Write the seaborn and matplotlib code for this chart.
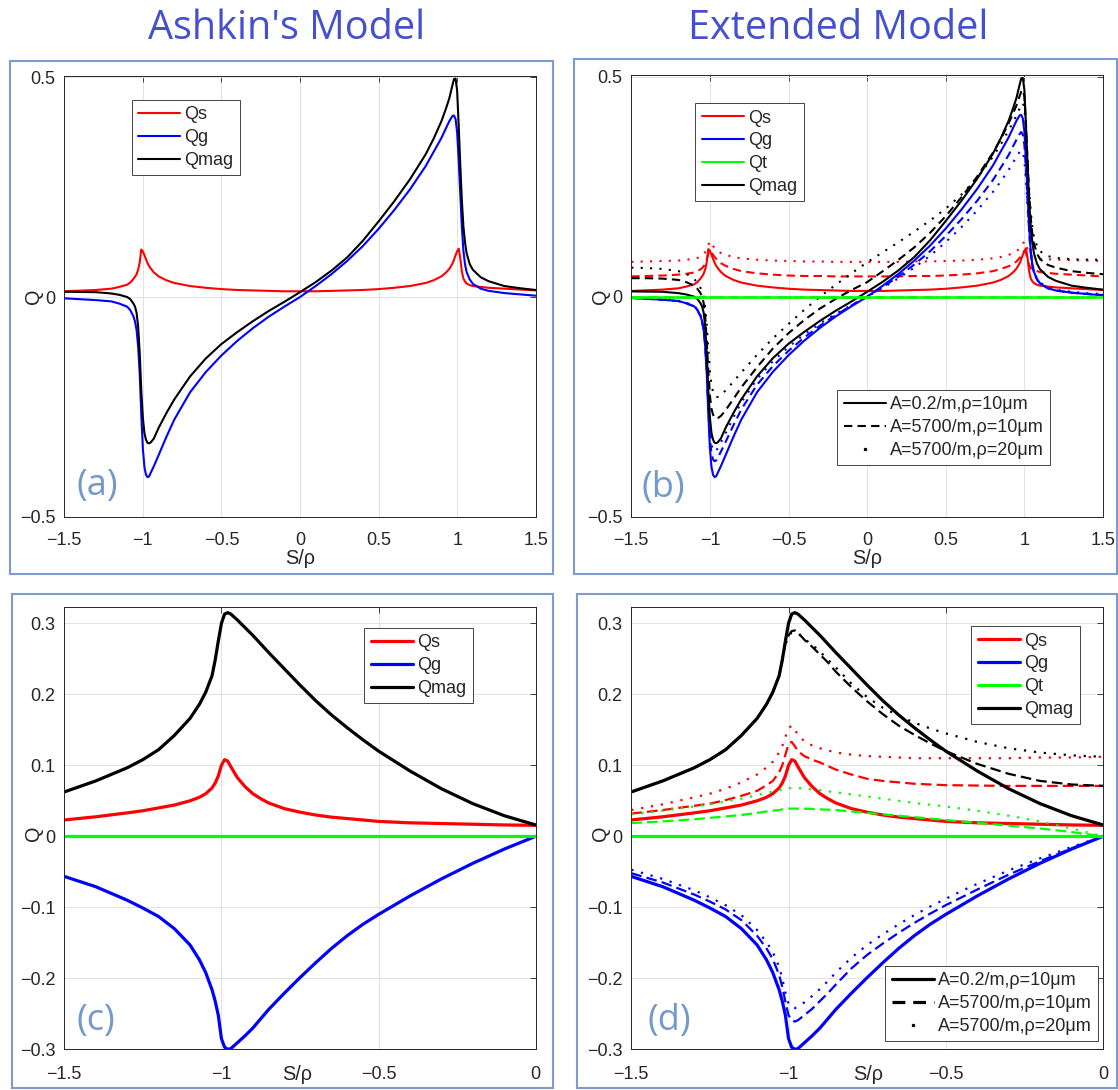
import matplotlib
matplotlib.use("Agg")
import matplotlib.pyplot as plt
from matplotlib.lines import Line2D
from matplotlib.patches import Rectangle
import seaborn as sns

# ---------------- panels (a) and (b): S/rho from -1.5 to 1.5 ----------------
s_full = [-1.5, -1.4, -1.3, -1.2, -1.15, -1.1, -1.08, -1.06, -1.05, -1.04,
          -1.03, -1.02, -1.01, -1.0, -0.99, -0.98, -0.97, -0.96, -0.95, -0.93,
          -0.9, -0.85, -0.8, -0.7, -0.6, -0.5, -0.4, -0.3, -0.2, -0.1,
          0.0, 0.1, 0.2, 0.3, 0.4, 0.5, 0.6, 0.7, 0.8, 0.85,
          0.9, 0.93, 0.95, 0.97, 0.98, 0.99, 1.0, 1.01, 1.02, 1.03,
          1.04, 1.05, 1.06, 1.08, 1.1, 1.15, 1.2, 1.3, 1.4, 1.5]

# Ashkin model (also the A=0.2/m, rho=10um case of the extended model)
qs_ashkin = [0.013, 0.0145, 0.016, 0.019, 0.023, 0.028, 0.033, 0.041, 0.046, 0.052,
             0.062, 0.079, 0.108, 0.104, 0.095, 0.086, 0.077, 0.070, 0.065, 0.056,
             0.047, 0.038, 0.032, 0.025, 0.021, 0.018, 0.016, 0.015, 0.014, 0.013,
             0.013, 0.013, 0.014, 0.015, 0.016, 0.018, 0.021, 0.025, 0.032, 0.038,
             0.047, 0.056, 0.064, 0.076, 0.085, 0.095, 0.104, 0.110, 0.088, 0.058,
             0.042, 0.035, 0.031, 0.027, 0.025, 0.023, 0.021, 0.019, 0.017, 0.015]
qg_ashkin = [-0.003, -0.005, -0.007, -0.010, -0.015, -0.022, -0.030, -0.044, -0.056, -0.075,
             -0.113, -0.175, -0.268, -0.345, -0.387, -0.405, -0.410, -0.408, -0.400, -0.385,
             -0.360, -0.318, -0.279, -0.217, -0.171, -0.133, -0.100, -0.071, -0.045, -0.022,
             0.0, 0.025, 0.052, 0.082, 0.116, 0.155, 0.198, 0.245, 0.298, 0.330,
             0.362, 0.385, 0.400, 0.412, 0.413, 0.405, 0.375, 0.310, 0.235, 0.160,
             0.105, 0.075, 0.057, 0.040, 0.030, 0.019, 0.014, 0.009, 0.006, 0.003]
qmag_ashkin = [0.012, 0.0115, 0.011, 0.008, 0.005, 0.0, -0.005, -0.015, -0.022, -0.036,
               -0.067, -0.129, -0.214, -0.275, -0.310, -0.325, -0.332, -0.333, -0.331, -0.322,
               -0.298, -0.264, -0.233, -0.181, -0.140, -0.107, -0.080, -0.055, -0.032, -0.011,
               0.011, 0.034, 0.060, 0.090, 0.128, 0.172, 0.218, 0.268, 0.325, 0.360,
               0.400, 0.430, 0.452, 0.482, 0.496, 0.497, 0.470, 0.390, 0.300, 0.220,
               0.160, 0.125, 0.100, 0.075, 0.062, 0.045, 0.036, 0.025, 0.020, 0.016]

# extended model, A=5700/m, rho=10um
qs_b_a5700_r10 = [0.046, 0.047, 0.048, 0.050, 0.052, 0.055, 0.058, 0.062, 0.065, 0.069,
                  0.075, 0.085, 0.098, 0.105, 0.100, 0.095, 0.090, 0.086, 0.082, 0.076,
                  0.070, 0.063, 0.058, 0.053, 0.050, 0.048, 0.047, 0.047, 0.046, 0.046,
                  0.046, 0.046, 0.046, 0.047, 0.047, 0.048, 0.050, 0.053, 0.058, 0.063,
                  0.069, 0.075, 0.080, 0.088, 0.093, 0.099, 0.104, 0.100, 0.085, 0.072,
                  0.065, 0.062, 0.060, 0.058, 0.056, 0.054, 0.052, 0.050, 0.048, 0.046]
qg_b_a5700_r10 = [-0.003, -0.005, -0.007, -0.010, -0.015, -0.022, -0.030, -0.044, -0.056, -0.075,
                  -0.110, -0.170, -0.255, -0.322, -0.357, -0.370, -0.374, -0.372, -0.366, -0.352,
                  -0.330, -0.292, -0.256, -0.200, -0.158, -0.123, -0.093, -0.066, -0.042, -0.020,
                  0.0, 0.022, 0.046, 0.073, 0.103, 0.138, 0.176, 0.218, 0.265, 0.293,
                  0.322, 0.343, 0.357, 0.370, 0.374, 0.368, 0.345, 0.290, 0.220, 0.150,
                  0.100, 0.072, 0.055, 0.039, 0.030, 0.019, 0.014, 0.009, 0.006, 0.004]
qmag_b_a5700_r10 = [0.042, 0.042, 0.041, 0.038, 0.033, 0.025, 0.018, 0.008, 0.0, -0.014,
                    -0.045, -0.100, -0.170, -0.225, -0.255, -0.268, -0.275, -0.277, -0.276, -0.271,
                    -0.258, -0.232, -0.206, -0.160, -0.118, -0.083, -0.053, -0.027, -0.005, 0.015,
                    0.033, 0.058, 0.084, 0.112, 0.145, 0.183, 0.226, 0.273, 0.327, 0.358,
                    0.394, 0.418, 0.435, 0.456, 0.466, 0.470, 0.455, 0.390, 0.310, 0.235,
                    0.180, 0.145, 0.122, 0.098, 0.085, 0.072, 0.066, 0.058, 0.054, 0.051]

# extended model, A=5700/m, rho=20um
qs_b_a5700_r20 = [0.079, 0.080, 0.081, 0.082, 0.084, 0.086, 0.088, 0.091, 0.093, 0.096,
                  0.101, 0.108, 0.118, 0.126, 0.120, 0.115, 0.111, 0.107, 0.104, 0.099,
                  0.095, 0.090, 0.087, 0.084, 0.082, 0.081, 0.080, 0.080, 0.079, 0.079,
                  0.079, 0.079, 0.079, 0.080, 0.080, 0.081, 0.082, 0.084, 0.087, 0.090,
                  0.095, 0.099, 0.103, 0.110, 0.114, 0.119, 0.126, 0.120, 0.108, 0.099,
                  0.094, 0.091, 0.089, 0.087, 0.086, 0.085, 0.084, 0.083, 0.082, 0.081]
qg_b_a5700_r20 = [-0.002, -0.004, -0.006, -0.009, -0.014, -0.021, -0.029, -0.042, -0.054, -0.072,
                  -0.106, -0.163, -0.242, -0.303, -0.336, -0.348, -0.352, -0.350, -0.344, -0.331,
                  -0.310, -0.274, -0.240, -0.187, -0.147, -0.114, -0.086, -0.061, -0.039, -0.019,
                  0.0, 0.020, 0.042, 0.066, 0.093, 0.124, 0.158, 0.196, 0.238, 0.262,
                  0.288, 0.306, 0.318, 0.329, 0.332, 0.328, 0.310, 0.265, 0.205, 0.145,
                  0.100, 0.073, 0.057, 0.041, 0.032, 0.021, 0.016, 0.011, 0.008, 0.006]
qmag_b_a5700_r20 = [0.066, 0.065, 0.063, 0.058, 0.052, 0.040, 0.032, 0.020, 0.012, 0.0,
                    -0.025, -0.065, -0.120, -0.170, -0.200, -0.217, -0.225, -0.228, -0.228, -0.224,
                    -0.213, -0.193, -0.172, -0.132, -0.095, -0.062, -0.030, 0.0, 0.027, 0.053,
                    0.078, 0.101, 0.124, 0.148, 0.173, 0.200, 0.232, 0.270, 0.318, 0.346,
                    0.378, 0.398, 0.412, 0.428, 0.436, 0.440, 0.430, 0.380, 0.310, 0.245,
                    0.195, 0.160, 0.138, 0.115, 0.103, 0.092, 0.088, 0.085, 0.084, 0.084]

# Qt stays on zero over the full range in panel (b)
s_flat_b = [-1.5, 1.5]
qt_b = [0.0, 0.0]

# ---------------- panels (c) and (d): S/rho from -1.5 to 0 ----------------
s_half = [-1.5, -1.4, -1.3, -1.25, -1.2, -1.15, -1.1, -1.07, -1.05, -1.03,
          -1.02, -1.01, -1.0, -0.99, -0.98, -0.97, -0.95, -0.925, -0.9, -0.875,
          -0.85, -0.8, -0.75, -0.7, -0.65, -0.6, -0.55, -0.5, -0.45, -0.4,
          -0.3, -0.2, -0.1, 0.0]

qs_c = [0.023, 0.0275, 0.033, 0.036, 0.040, 0.044, 0.050, 0.055, 0.060, 0.068,
        0.075, 0.085, 0.100, 0.108, 0.106, 0.098, 0.083, 0.070, 0.060, 0.053,
        0.047, 0.039, 0.034, 0.030, 0.027, 0.025, 0.023, 0.021, 0.020, 0.019,
        0.018, 0.017, 0.016, 0.0155]
qg_c = [-0.0565, -0.071, -0.090, -0.101, -0.113, -0.130, -0.153, -0.174, -0.192, -0.216,
        -0.232, -0.252, -0.285, -0.297, -0.300, -0.299, -0.291, -0.281, -0.270, -0.257,
        -0.244, -0.221, -0.199, -0.178, -0.158, -0.140, -0.124, -0.110, -0.097, -0.084,
        -0.060, -0.038, -0.018, 0.0]
qmag_c = [0.0625, 0.078, 0.0965, 0.108, 0.122, 0.142, 0.166, 0.186, 0.203, 0.226,
          0.248, 0.275, 0.300, 0.313, 0.315, 0.313, 0.305, 0.294, 0.283, 0.271,
          0.259, 0.236, 0.213, 0.191, 0.171, 0.153, 0.136, 0.120, 0.106, 0.092,
          0.067, 0.046, 0.029, 0.016]
s_flat_c = [-1.5, 0.0]
qt_c = [0.0, 0.0]

qs_d_a5700_r10 = [0.032, 0.037, 0.043, 0.046, 0.051, 0.057, 0.064, 0.072, 0.078, 0.090,
                  0.100, 0.115, 0.130, 0.133, 0.127, 0.120, 0.113, 0.108, 0.104, 0.099,
                  0.094, 0.087, 0.081, 0.078, 0.076, 0.074, 0.073, 0.072, 0.0718, 0.0715,
                  0.071, 0.071, 0.071, 0.071]
qg_d_a5700_r10 = [-0.052, -0.065, -0.082, -0.092, -0.103, -0.118, -0.140, -0.158, -0.173, -0.195,
                  -0.212, -0.233, -0.252, -0.259, -0.261, -0.259, -0.252, -0.243, -0.232, -0.221,
                  -0.209, -0.186, -0.167, -0.151, -0.136, -0.122, -0.109, -0.097, -0.086, -0.075,
                  -0.054, -0.035, -0.017, 0.0]
qt_d_a5700_r10 = [0.0186, 0.021, 0.024, 0.026, 0.028, 0.030, 0.033, 0.035, 0.036, 0.037,
                  0.038, 0.038, 0.039, 0.039, 0.039, 0.039, 0.039, 0.0385, 0.038, 0.0375,
                  0.037, 0.035, 0.033, 0.031, 0.029, 0.027, 0.025, 0.023, 0.021, 0.019,
                  0.015, 0.011, 0.006, 0.0]
qmag_d_a5700_r10 = [0.0625, 0.078, 0.0965, 0.108, 0.122, 0.142, 0.166, 0.186, 0.203, 0.226,
                    0.248, 0.272, 0.283, 0.289, 0.290, 0.287, 0.277, 0.267, 0.256, 0.245,
                    0.232, 0.210, 0.190, 0.172, 0.156, 0.143, 0.131, 0.120, 0.111, 0.102,
                    0.088, 0.078, 0.073, 0.071]

qs_d_a5700_r20 = [0.037, 0.045, 0.055, 0.060, 0.067, 0.076, 0.087, 0.097, 0.105, 0.118,
                  0.127, 0.140, 0.152, 0.156, 0.150, 0.143, 0.134, 0.128, 0.124, 0.121,
                  0.118, 0.115, 0.113, 0.112, 0.111, 0.110, 0.110, 0.110, 0.110, 0.110,
                  0.110, 0.111, 0.111, 0.112]
qg_d_a5700_r20 = [-0.047, -0.060, -0.076, -0.086, -0.097, -0.111, -0.132, -0.149, -0.163, -0.184,
                  -0.200, -0.220, -0.236, -0.241, -0.242, -0.240, -0.234, -0.225, -0.215, -0.204,
                  -0.192, -0.171, -0.153, -0.138, -0.124, -0.111, -0.099, -0.088, -0.077, -0.067,
                  -0.048, -0.031, -0.015, 0.0]
qt_d_a5700_r20 = [0.031, 0.036, 0.042, 0.045, 0.049, 0.053, 0.058, 0.061, 0.063, 0.065,
                  0.066, 0.067, 0.0675, 0.068, 0.068, 0.068, 0.067, 0.066, 0.065, 0.0635,
                  0.062, 0.059, 0.056, 0.053, 0.050, 0.047, 0.0445, 0.042, 0.039, 0.036,
                  0.029, 0.021, 0.011, 0.0]
qmag_d_a5700_r20 = [0.0625, 0.078, 0.0965, 0.108, 0.122, 0.142, 0.166, 0.186, 0.203, 0.226,
                    0.248, 0.270, 0.282, 0.287, 0.288, 0.286, 0.278, 0.270, 0.260, 0.249,
                    0.238, 0.215, 0.196, 0.181, 0.170, 0.160, 0.152, 0.145, 0.139, 0.133,
                    0.124, 0.118, 0.114, 0.112]

component_labels = ["Qs", "Qg", "Qt", "Qmag"]
case_labels = ["A=0.2/m,ρ=10μm", "A=5700/m,ρ=10μm", "A=5700/m,ρ=20μm"]
ticks_wide = [-1.5, -1, -0.5, 0, 0.5, 1, 1.5]
ticks_half = [-1.5, -1, -0.5, 0]
yticks_ab = [-0.5, 0, 0.5]
yticks_cd = [-0.3, -0.2, -0.1, 0, 0.1, 0.2, 0.3]

# ---------------- styling ----------------
RED, BLUE, GREEN, BLACK = "#ff0000", "#0000ff", "#00ff00", "#000000"
INK = "#262626"
FRAME = "#7d9bcc"
TITLE_C = "#4450d0"
TAG_C = "#7399cc"
DASH_B, DOT_B = (0, (4, 2.5)), (0, (1, 3.5))
DASH_D, DOT_D = (0, (4.8, 2.3)), (0, (1, 3.5))

sns.set_style("white")
plt.rcParams["font.family"] = ["Liberation Sans", "DejaVu Sans"]
plt.rcParams["axes.unicode_minus"] = True

W, H = 1118, 1090
fig = plt.figure(figsize=(W / 100, H / 100), dpi=100)


def axes_px(l, t, r, b):
    return fig.add_axes([l / W, 1 - b / H, (r - l) / W, (b - t) / H])


def curve(ax, x, y, color, lw, ls="-"):
    sns.lineplot(x=x, y=y, ax=ax, color=color, linewidth=lw, linestyle=ls,
                 errorbar=None, estimator=None, sort=False)


def tick_text(v):
    return f"{v:g}".replace("-", "\u2212")


def setup(ax, xlim, ylim, xticks, yticks, xpad, ylab_y, xlab_xy):
    ax.set_xlim(*xlim)
    ax.set_ylim(*ylim)
    ax.set_xticks(xticks)
    ax.set_xticklabels([tick_text(v) for v in xticks])
    ax.set_yticks(yticks)
    ax.set_yticklabels([tick_text(v) for v in yticks])
    ax.grid(True, color="#e2e2e2", linewidth=0.7)
    ax.set_axisbelow(True)
    ax.tick_params(axis="both", direction="in", top=True, right=True,
                   length=4, width=0.6, color=INK, labelcolor=INK, labelsize=13)
    ax.tick_params(axis="x", pad=xpad)
    ax.tick_params(axis="y", pad=6.5)
    for sp in ax.spines.values():
        sp.set_color(INK)
        sp.set_linewidth(0.7)
    ax.set_ylabel("Q", fontsize=14.3, color=INK)
    ax.yaxis.label.set_va("center")
    ax.yaxis.set_label_coords(-0.066, ylab_y)
    ax.set_xlabel("S/ρ", fontsize=14.3, color=INK)
    ax.xaxis.label.set_va("center")
    ax.xaxis.set_label_coords(*xlab_xy)


def legend(ax, handles, labels, x, y):
    leg = ax.legend(handles, labels, loc="upper left",
                    bbox_to_anchor=(x / W, 1 - y / H), bbox_transform=fig.transFigure,
                    borderaxespad=0, fontsize=13, frameon=True, fancybox=False,
                    framealpha=1, edgecolor=INK, borderpad=0.35, labelspacing=0.32,
                    handlelength=2.34, handletextpad=0.24)
    leg.get_frame().set_linewidth(0.6)
    for t in leg.get_texts():
        t.set_color(INK)
    return leg


def color_handles(lw, with_qt):
    cols = [RED, BLUE, GREEN, BLACK] if with_qt else [RED, BLUE, BLACK]
    return [Line2D([], [], color=c, lw=lw) for c in cols]


def case_handles(lw):
    return [Line2D([], [], color=BLACK, lw=lw),
            Line2D([], [], color=BLACK, lw=lw, linestyle=DASH_B),
            Line2D([], [], color=BLACK, ls="none", marker=".", markersize=3)]


# panel frames
for (l, t, r, b) in [(9.5, 60.5, 552.5, 573.5), (574, 59.5, 1116.5, 573.5),
                     (11.5, 594, 552.5, 1088), (576.5, 594, 1116.5, 1088)]:
    fig.patches.append(Rectangle((l / W, 1 - b / H), (r - l) / W, (b - t) / H,
                                 transform=fig.transFigure, fill=False,
                                 edgecolor=FRAME, linewidth=1.5))

# column titles
fig.text(287 / W, 1 - 39 / H, "Ashkin's Model", ha="center", va="baseline",
         fontsize=28.5, color=TITLE_C, family=["Open Sans", "DejaVu Sans"])
fig.text(838.5 / W, 1 - 39 / H, "Extended Model", ha="center", va="baseline",
         fontsize=28.5, color=TITLE_C, family=["Open Sans", "DejaVu Sans"])

# ---- (a) ----
ax_a = axes_px(64.3, 76, 535.7, 516.7)
curve(ax_a, s_full, qs_ashkin, RED, 1.5)
curve(ax_a, s_full, qg_ashkin, BLUE, 1.5)
curve(ax_a, s_full, qmag_ashkin, BLACK, 1.5)
setup(ax_a, (-1.5, 1.5), (-0.5, 0.503), ticks_wide, yticks_ab, 10.7, 0.5, (0.5, -0.094))
legend(ax_a, color_handles(1.5, False), ["Qs", "Qg", "Qmag"], 131.7, 100)

# ---- (b) ----
ax_b = axes_px(631.3, 75.3, 1103, 516.7)
for ys, ls in [(qs_ashkin, "-"), (qs_b_a5700_r10, DASH_B), (qs_b_a5700_r20, DOT_B)]:
    curve(ax_b, s_full, ys, RED, 1.5, ls)
for ys, ls in [(qg_ashkin, "-"), (qg_b_a5700_r10, DASH_B), (qg_b_a5700_r20, DOT_B)]:
    curve(ax_b, s_full, ys, BLUE, 1.5, ls)
for ys, ls in [(qmag_ashkin, "-"), (qmag_b_a5700_r10, DASH_B), (qmag_b_a5700_r20, DOT_B)]:
    curve(ax_b, s_full, ys, BLACK, 1.5, ls)
for ls in ["-", DASH_B, DOT_B]:
    curve(ax_b, s_flat_b, qt_b, GREEN, 1.8, ls)
setup(ax_b, (-1.5, 1.5), (-0.5, 0.503), ticks_wide, yticks_ab, 10.7, 0.5, (0.5, -0.094))
leg1 = legend(ax_b, color_handles(1.5, True), component_labels, 695.4, 103.4)
ax_b.add_artist(leg1)
legend(ax_b, case_handles(1.5), case_labels, 837.3, 390)

# ---- (c) ----
ax_c = axes_px(64.3, 606.7, 535.7, 1049.3)
curve(ax_c, s_half, qs_c, RED, 2.3)
curve(ax_c, s_half, qg_c, BLUE, 2.3)
curve(ax_c, s_flat_c, qt_c, GREEN, 2.3)
curve(ax_c, s_half, qmag_c, BLACK, 2.3)
setup(ax_c, (-1.5, 0), (-0.3, 0.3234), ticks_half, yticks_cd, 12.0, 0.489, (0.493, -0.056))
legend(ax_c, color_handles(2.3, False), ["Qs", "Qg", "Qmag"], 364.3, 628)

# ---- (d) ----
ax_d = axes_px(631.3, 606.7, 1103, 1049.3)
curve(ax_d, s_half, qs_c, RED, 2.3)
curve(ax_d, s_half, qs_d_a5700_r10, RED, 1.6, DASH_D)
curve(ax_d, s_half, qs_d_a5700_r20, RED, 1.6, DOT_D)
curve(ax_d, s_half, qg_c, BLUE, 2.3)
curve(ax_d, s_half, qg_d_a5700_r10, BLUE, 1.6, DASH_D)
curve(ax_d, s_half, qg_d_a5700_r20, BLUE, 1.6, DOT_D)
curve(ax_d, s_flat_c, qt_c, GREEN, 2.3)
curve(ax_d, s_half, qt_d_a5700_r10, GREEN, 1.6, DASH_D)
curve(ax_d, s_half, qt_d_a5700_r20, GREEN, 1.6, DOT_D)
curve(ax_d, s_half, qmag_c, BLACK, 2.3)
curve(ax_d, s_half, qmag_d_a5700_r10, BLACK, 1.6, DASH_D)
curve(ax_d, s_half, qmag_d_a5700_r20, BLACK, 1.6, DOT_D)
setup(ax_d, (-1.5, 0), (-0.3, 0.3234), ticks_half, yticks_cd, 12.0, 0.489, (0.502, -0.056))
leg3 = legend(ax_d, color_handles(2.3, True), component_labels, 971.3, 626.4)
ax_d.add_artist(leg3)
legend(ax_d, case_handles(2.3), case_labels, 885.3, 966)

# panel tags
for txt, x, y in [("(a)", 76, 486), ("(b)", 641.3, 488), ("(c)", 76.7, 1021), ("(d)", 647.3, 1021)]:
    fig.text(x / W, 1 - y / H, txt, ha="left", va="center", fontsize=26,
             color=TAG_C, family=["Open Sans", "DejaVu Sans"])

fig.savefig("out.png", dpi=100)
